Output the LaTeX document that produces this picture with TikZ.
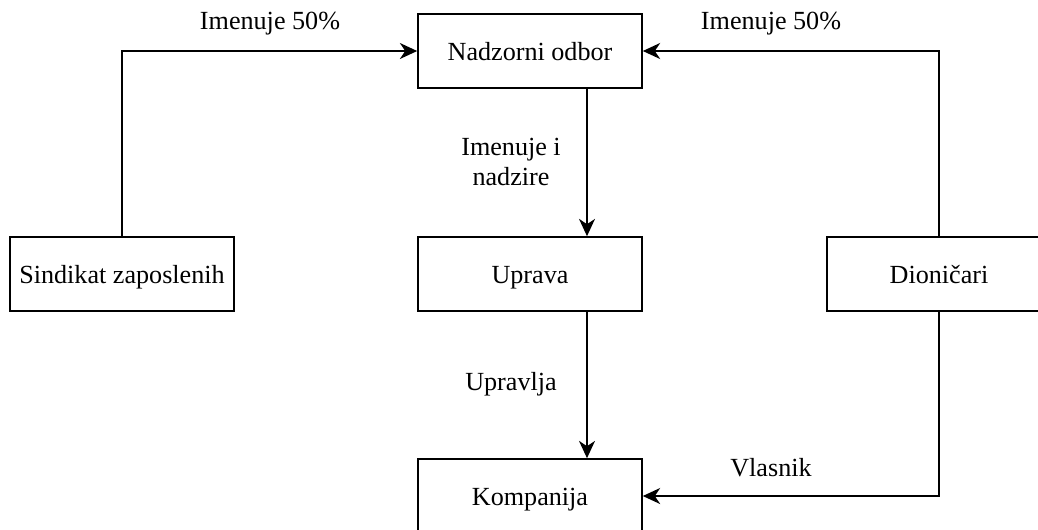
\documentclass[tikz,border=0pt]{standalone}
\usepackage{fontspec}
\setmainfont{Liberation Serif}
\usepackage{tikz}
\usetikzlibrary{arrows.meta,positioning}

\tikzset{
  box/.style={draw, line width=1.2pt, minimum width=168pt, minimum height=55.5pt, inner sep=0pt, text height=17.5pt, text depth=4pt},
  arr/.style={line width=1.2pt, -{Stealth[length=13pt,width=12pt,inset=4pt]}},
  lbl/.style={inner sep=0pt, align=center}
}

\begin{document}
\begin{tikzpicture}[x=0.75pt,y=-0.75pt,font=\fontsize{19.6}{22.5}\selectfont]
\useasboundingbox (0,0) rectangle (1038,529);
% boxes
\node[box] (nadzor) at (530,51) {Nadzorni odbor};
\node[box] (sind) at (122,274) {Sindikat zaposlenih};
\node[box] (uprava) at (530,274) {Uprava};
\node[box] (dion) at (939,274) {Dioni\v{c}ari};
\node[box] (komp) at (530,496) {Kompanija};
% connectors
\draw[arr] (sind.north) |- (nadzor.west);
\draw[arr] (dion.north) |- (nadzor.east);
\draw[arr] (nadzor.south -| 587,0) -- (uprava.north -| 587,0);
\draw[arr] (uprava.south -| 587,0) -- (komp.north -| 587,0);
\draw[arr] (dion.south) |- (komp.east);
% labels
\node[lbl] (imenL) at (270,24) {Imenuje 50\%};
\node[lbl] (imenR) at (771,24) {Imenuje 50\%};
\node[lbl] (nadz) at (511,162) {Imenuje i\\nadzire};
\node[lbl] (uprl) at (511,384) {Upravlja};
\node[lbl] (vlas) at (771,468) {Vlasnik};
\end{tikzpicture}
\end{document}
